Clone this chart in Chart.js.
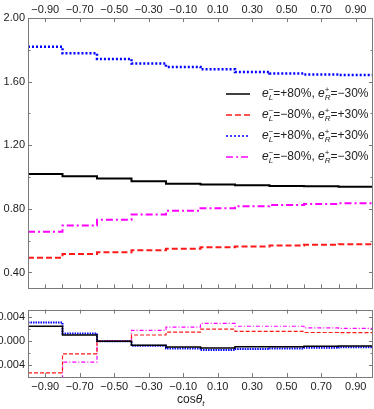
<!DOCTYPE html>
<html lang="en">
<head>
<meta charset="utf-8">
<title>cos theta distributions</title>
<script src="https://cdn.jsdelivr.net/npm/chart.js@4.4.0/dist/chart.umd.min.js"></script>
<style>
  body { margin: 0; background: #fff; }
  #wrap { position: relative; width: 374px; height: 409px; }
  canvas { position: absolute; left: 0; }
</style>
</head>
<body>
<div id="wrap">
  <canvas id="top" width="374" height="298" style="top:0"></canvas>
  <canvas id="bottom" width="374" height="109" style="top:300px"></canvas>
</div>
<script>
// bin edges in cos(theta_t)
var binEdges = [-1.0, -0.8, -0.6, -0.4, -0.2, 0.0, 0.2, 0.4, 0.6, 0.8, 1.0];

// upper panel, one value per bin
var blackVals   = [1.019, 1.005, 0.991, 0.974, 0.958, 0.954, 0.948, 0.944, 0.942, 0.939];
var redVals     = [0.492, 0.517, 0.527, 0.540, 0.550, 0.558, 0.564, 0.570, 0.574, 0.578];
var blueVals    = [1.819, 1.778, 1.743, 1.714, 1.692, 1.678, 1.661, 1.651, 1.645, 1.641];
var magentaVals = [0.656, 0.695, 0.732, 0.765, 0.788, 0.804, 0.816, 0.825, 0.831, 0.835];

// lower panel, one value per bin
var blackDiff   = [0.00246, 0.00102, 0, -0.00067, -0.00095, -0.00113, -0.00092, -0.00090, -0.00085, -0.00080];
var redDiff     = [-0.00523, -0.00210, 0, 0.00102, 0.00150, 0.00200, 0.00160, 0.00160, 0.00143, 0.00140];
var blueDiff    = [0.00308, 0.00128, 0, -0.00077, -0.00120, -0.00144, -0.00130, -0.00120, -0.00110, -0.00100];
var magentaDiff = [-0.00800, -0.00344, 0, 0.00179, 0.00230, 0.00292, 0.00246, 0.00246, 0.00220, 0.00210];

// ticks
var xLabelTicks = [-0.9, -0.7, -0.5, -0.3, -0.1, 0.1, 0.3, 0.5, 0.7, 0.9];
var xMinorTicks = [-0.8, -0.6, -0.4, -0.2, 0.0, 0.2, 0.4, 0.6, 0.8];
var yTopTicks = [0.4, 0.8, 1.2, 1.6, 2.0];
var yTopMinor = [0.6, 1.0, 1.4, 1.8];
var yBotTicks = [-0.004, 0.0, 0.004];
var yBotMinor = [-0.002, 0.002];

// legend text pieces
var polL = ['+80%', '\u221280%', '+80%', '\u221280%'];
var polR = ['\u221230%', '+30%', '+30%', '\u221230%'];

var FONT = '"Liberation Sans", Arial, sans-serif';
var minus = function(s) { return s.replace('-', '\u2212'); };

function steps(vals) {
  return binEdges.map(function(x, i) {
    return { x: x, y: vals[Math.min(i, vals.length - 1)] };
  });
}

// frame + inward tick marks
var frameTicks = {
  id: 'frameTicks',
  afterDraw: function(chart, args, o) {
    var ctx = chart.ctx, a = chart.chartArea, sx = chart.scales.x, sy = chart.scales.y;
    ctx.save();
    ctx.strokeStyle = '#7a7a7a';
    ctx.lineWidth = 1;
    function ln(x1, y1, x2, y2) { ctx.beginPath(); ctx.moveTo(x1, y1); ctx.lineTo(x2, y2); ctx.stroke(); }
    o.xTop.forEach(function(v) { var p = Math.round(sx.getPixelForValue(v)) + 0.5; ln(p, a.top, p, a.top + 4); });
    o.xBottom.forEach(function(v) { var p = Math.round(sx.getPixelForValue(v)) + 0.5; ln(p, a.bottom, p, a.bottom - 4); });
    o.yMajor.forEach(function(v) {
      var p = Math.round(sy.getPixelForValue(v)) + 0.5;
      ln(a.left, p, a.left + 4, p); ln(a.right, p, a.right - 4, p);
    });
    o.yMinor.forEach(function(v) {
      var p = Math.round(sy.getPixelForValue(v)) + 0.5;
      ln(a.left, p, a.left + 2.5, p); ln(a.right, p, a.right - 2.5, p);
    });
    ctx.strokeRect(Math.round(a.left) + 0.5, Math.round(a.top) + 0.5, Math.round(a.right - a.left) - 1, Math.round(a.bottom - a.top));
    ctx.restore();
  }
};

// legend with sub/superscripts
var polLegend = {
  id: 'polLegend',
  afterDraw: function(chart) {
    var ctx = chart.ctx;
    ctx.save();
    chart.data.datasets.forEach(function(ds, i) {
      var y = 94 + i * 21;
      ctx.strokeStyle = ds.borderColor;
      ctx.globalAlpha = 0.75;
      ctx.lineWidth = 2;
      ctx.setLineDash(ds.borderDash || []);
      ctx.beginPath(); ctx.moveTo(226, y); ctx.lineTo(250, y); ctx.stroke();
      ctx.globalAlpha = 1;
      ctx.setLineDash([]);
      ctx.fillStyle = '#222';
      ctx.textBaseline = 'middle';
      var x = 262;
      function put(txt, font, dy) { ctx.font = font; ctx.fillText(txt, x, y + dy); return ctx.measureText(txt).width; }
      function ee(sup, sub) {
        x += put('e', 'italic 12px ' + FONT, 0);
        var w1 = put(sup, '8px ' + FONT, -4);
        var ws = put(sub, 'italic 8px ' + FONT, 4);
        x += Math.max(w1, ws);
      }
      ee('\u2212', 'L');
      x += put('=' + polL[i] + ', ', '12px ' + FONT, 0);
      ee('+', 'R');
      put('=' + polR[i], '12px ' + FONT, 0);
    });
    ctx.restore();
  }
};

// x axis title for the lower panel
var cosTitle = {
  id: 'cosTitle',
  afterDraw: function(chart) {
    var ctx = chart.ctx, x = 177, y = 100;
    ctx.save();
    ctx.fillStyle = '#222';
    ctx.textBaseline = 'middle';
    ctx.font = '12px ' + FONT; ctx.fillText('cos', x, y); x += ctx.measureText('cos').width;
    ctx.font = 'italic 12px ' + FONT; ctx.fillText('\u03b8', x, y); x += ctx.measureText('\u03b8').width;
    ctx.font = 'italic 8px ' + FONT; ctx.fillText('t', x, y + 4);
    ctx.restore();
  }
};

function line(label, data, color, dash, width) {
  return {
    label: label, data: data, borderColor: color, borderDash: dash, borderWidth: width,
    stepped: true, pointRadius: 0, fill: false
  };
}

var tickFont = { family: FONT, size: 11 };

new Chart(document.getElementById('top'), {
  type: 'line',
  data: {
    datasets: [
      line('black', steps(blackVals), '#000000', [], 2),
      line('red', steps(redVals), '#ff1a1a', [6, 3], 2),
      line('blue', steps(blueVals), '#0000ff', [2, 2], 2.5),
      line('magenta', steps(magentaVals), '#ff00ff', [7, 3, 2, 3], 2)
    ]
  },
  options: {
    responsive: false,
    animation: false,
    layout: { padding: { left: 0, right: 1, top: 0, bottom: 3 } },
    plugins: {
      legend: { display: false },
      tooltip: { enabled: false },
      frameTicks: { xTop: xLabelTicks, xBottom: xLabelTicks.concat(xMinorTicks), yMajor: yTopTicks, yMinor: yTopMinor }
    },
    scales: {
      x: {
        type: 'linear', position: 'bottom', min: -1, max: 1,
        ticks: { display: false }, grid: { display: false, drawTicks: false }, border: { display: false },
        afterFit: function(s) { s.height = 0; }
      },
      xt: {
        type: 'linear', position: 'top', min: -1, max: 1,
        grid: { display: false, drawTicks: false }, border: { display: false },
        afterBuildTicks: function(s) { s.ticks = xLabelTicks.map(function(v) { return { value: v }; }); },
        ticks: { color: '#222', font: tickFont, padding: 1, maxRotation: 0, autoSkip: false,
          callback: function(v) { return minus(v.toFixed(2)); } },
        afterFit: function(s) { s.height = 18; }
      },
      y: {
        min: 0.3, max: 2.0,
        grid: { display: false, drawTicks: false }, border: { display: false },
        afterBuildTicks: function(s) { s.ticks = yTopTicks.map(function(v) { return { value: v }; }); },
        ticks: { color: '#222', font: tickFont, padding: 3, callback: function(v) { return v.toFixed(2); } },
        afterFit: function(s) { s.width = 28; }
      }
    }
  },
  plugins: [frameTicks, polLegend]
});

new Chart(document.getElementById('bottom'), {
  type: 'line',
  data: {
    datasets: [
      line('black', steps(blackDiff), '#000000', [], 1.5),
      line('red', steps(redDiff), '#ff1a1a', [4, 2], 1.2),
      line('blue', steps(blueDiff), '#0000ff', [1.5, 1], 2),
      line('magenta', steps(magentaDiff), '#ff00ff', [4, 2, 1, 2], 1.2)
    ]
  },
  options: {
    responsive: false,
    animation: false,
    layout: { padding: { left: 0, right: 1, top: 5, bottom: 0 } },
    plugins: {
      legend: { display: false },
      tooltip: { enabled: false },
      frameTicks: { xTop: xLabelTicks, xBottom: xLabelTicks, yMajor: yBotTicks, yMinor: yBotMinor }
    },
    scales: {
      x: {
        type: 'linear', position: 'bottom', min: -1, max: 1,
        grid: { display: false, drawTicks: false }, border: { display: false },
        afterBuildTicks: function(s) { s.ticks = xLabelTicks.map(function(v) { return { value: v }; }); },
        ticks: { color: '#222', font: tickFont, padding: 3, maxRotation: 0, autoSkip: false,
          callback: function(v) { return minus(v.toFixed(2)); } },
        afterFit: function(s) { s.height = 32; }
      },
      y: {
        min: -0.0059, max: 0.0052,
        grid: { display: false, drawTicks: false }, border: { display: false },
        afterBuildTicks: function(s) { s.ticks = yBotTicks.map(function(v) { return { value: v }; }); },
        ticks: { color: '#222', font: tickFont, padding: 3, callback: function(v) { return minus(v.toFixed(3)); } },
        afterFit: function(s) { s.width = 28; }
      }
    }
  },
  plugins: [frameTicks, cosTitle]
});
</script>
</body>
</html>
